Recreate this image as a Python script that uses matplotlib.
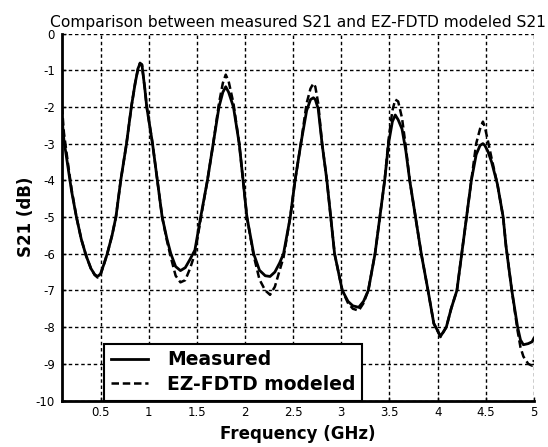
import matplotlib
matplotlib.use("Agg")
import matplotlib.pyplot as plt

# Frequency points (GHz)
freq = [0.10, 0.12, 0.16, 0.20, 0.25, 0.30, 0.35, 0.40, 0.44, 0.47,
        0.50, 0.54, 0.57, 0.62, 0.66, 0.71, 0.77, 0.82, 0.86, 0.89,
        0.91, 0.93, 0.96, 0.98, 1.04, 1.09, 1.14, 1.19, 1.23, 1.28,
        1.33, 1.38, 1.43, 1.48, 1.54, 1.61, 1.67, 1.73, 1.77, 1.80,
        1.83, 1.88, 1.94, 1.98, 2.02, 2.09, 2.15, 2.21, 2.26, 2.31,
        2.36, 2.40, 2.47, 2.52, 2.58, 2.64, 2.68, 2.71, 2.73, 2.76,
        2.80, 2.85, 2.89, 2.93, 3.01, 3.07, 3.12, 3.18, 3.23, 3.28,
        3.35, 3.40, 3.45, 3.49, 3.53, 3.56, 3.59, 3.63, 3.67, 3.71,
        3.77, 3.83, 3.90, 3.96, 4.03, 4.09, 4.14, 4.20, 4.25, 4.30,
        4.35, 4.40, 4.44, 4.47, 4.49, 4.52, 4.56, 4.62, 4.68, 4.71,
        4.77, 4.83, 4.86, 4.89, 4.94, 4.98, 5.00]

# Measured S21 (dB)
s21_measured = [-2.3, -2.9, -3.6, -4.3, -5.0, -5.6, -6.05, -6.4, -6.57, -6.62,
                -6.55, -6.25, -6.0, -5.5, -5.0, -4.0, -3.0, -2.0, -1.35, -0.95,
                -0.82, -0.85, -1.5, -2.0, -3.0, -4.0, -5.0, -5.6, -6.0, -6.35,
                -6.46, -6.38, -6.15, -5.9, -5.0, -4.0, -3.0, -2.0, -1.6, -1.45,
                -1.6, -2.0, -3.0, -4.0, -5.0, -6.0, -6.45, -6.6, -6.62, -6.5,
                -6.25, -6.0, -5.0, -4.0, -3.0, -2.1, -1.8, -1.75, -1.8, -2.05,
                -3.0, -4.0, -5.0, -6.0, -7.0, -7.3, -7.42, -7.46, -7.3, -7.0,
                -6.0, -5.0, -4.0, -3.0, -2.4, -2.22, -2.35, -2.6, -3.2, -4.0,
                -5.0, -6.0, -7.0, -7.9, -8.25, -8.0, -7.5, -7.0, -6.0, -5.0,
                -4.0, -3.3, -3.05, -3.0, -3.05, -3.2, -3.5, -4.1, -5.0, -5.8,
                -7.0, -8.0, -8.35, -8.48, -8.45, -8.4, -8.3]

# EZ-FDTD modeled S21 (dB)
s21_modeled = [-2.0, -2.7, -3.5, -4.25, -5.0, -5.6, -6.05, -6.4, -6.58, -6.65,
               -6.58, -6.25, -6.0, -5.5, -5.0, -4.0, -3.0, -2.0, -1.35, -0.95,
               -0.8, -0.85, -1.5, -2.0, -3.0, -4.0, -5.0, -5.65, -6.1, -6.6,
               -6.78, -6.72, -6.4, -6.0, -5.05, -4.0, -3.0, -1.9, -1.35, -1.12,
               -1.3, -1.9, -3.0, -4.0, -5.0, -6.05, -6.7, -7.0, -7.12, -6.9,
               -6.45, -6.1, -5.0, -4.0, -3.0, -1.9, -1.5, -1.36, -1.45, -1.9,
               -3.0, -4.0, -5.0, -6.0, -7.0, -7.35, -7.5, -7.55, -7.35, -7.0,
               -6.0, -5.0, -4.0, -2.9, -2.1, -1.8, -1.85, -2.3, -3.1, -4.0,
               -5.0, -6.0, -7.0, -7.9, -8.27, -8.0, -7.5, -7.0, -6.0, -5.0,
               -4.0, -3.0, -2.6, -2.4, -2.55, -2.9, -3.4, -4.1, -5.0, -5.8,
               -7.0, -8.1, -8.55, -8.8, -9.0, -9.05, -8.9]

x_ticks = [0.5, 1, 1.5, 2, 2.5, 3, 3.5, 4, 4.5, 5]
x_tick_labels = ['0.5', '1', '1.5', '2', '2.5', '3', '3.5', '4', '4.5', '5']
y_ticks = [0, -1, -2, -3, -4, -5, -6, -7, -8, -9, -10]
y_tick_labels = ['0', '-1', '-2', '-3', '-4', '-5', '-6', '-7', '-8', '-9', '-10']

fig = plt.figure(figsize=(5.48, 4.47), dpi=100)
ax = fig.add_axes([0.1131, 0.104, 0.8613, 0.821])

ax.plot(freq, s21_measured, color='black', linewidth=2.0, label='Measured')
ax.plot(freq, s21_modeled, color='black', linewidth=1.8,
        linestyle=(0, (3, 1.5)), label='EZ-FDTD modeled')

ax.set_xlim(0.1, 5)
ax.set_ylim(-10, 0)
ax.set_xticks(x_ticks)
ax.set_xticklabels(x_tick_labels)
ax.set_yticks(y_ticks)
ax.set_yticklabels(y_tick_labels)
ax.tick_params(direction='in', length=3, width=1, labelsize=8.5)
ax.tick_params(axis='x', pad=4)
ax.tick_params(axis='y', pad=5)

# MATLAB style: dotted grid, box off
ax.grid(True, color='black', linestyle=(0, (2.5, 2)), linewidth=1.0)
ax.spines['top'].set_visible(False)
ax.spines['right'].set_visible(False)
ax.spines['left'].set_linewidth(2)
ax.spines['bottom'].set_linewidth(2)

ax.set_title('Comparison between measured S21 and EZ-FDTD modeled S21',
             fontsize=11.2, pad=5)
ax.set_xlabel('Frequency (GHz)', fontsize=12, fontweight='bold', labelpad=4)
ax.set_ylabel('S21 (dB)', fontsize=12, fontweight='bold')
ax.yaxis.set_label_coords(-0.057, 0.5)

leg = ax.legend(loc='lower left', bbox_to_anchor=(0.089, 0.0),
                borderaxespad=0, fancybox=False, framealpha=1,
                edgecolor='black', prop={'size': 13.5, 'weight': 'bold'},
                handlelength=2.0, handletextpad=1.0, labelspacing=0.3,
                borderpad=0.35)
leg.get_frame().set_linewidth(1.5)

fig.savefig('out.png', dpi=100)
